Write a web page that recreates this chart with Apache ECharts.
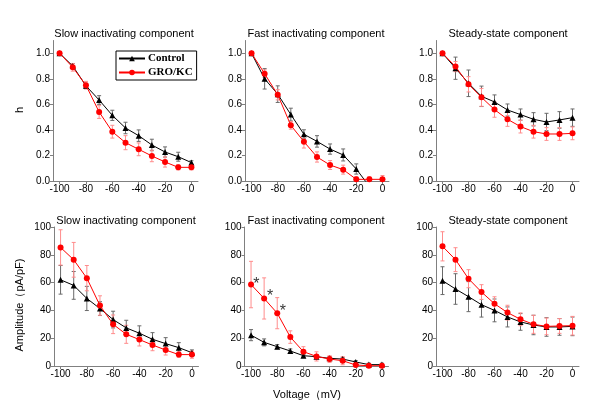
<!DOCTYPE html>
<html>
<head>
<meta charset="utf-8">
<script src="https://cdn.jsdelivr.net/npm/echarts@6/dist/echarts.min.js"></script>
<style>html,body{margin:0;padding:0;background:#fff;}#c{width:600px;height:417px;}</style>
</head>
<body>
<div id="c"></div>
<script>
// ---------- data ----------
const voltage = [-100, -90, -80, -70, -60, -50, -40, -30, -20, -10, 0];
const xTicks = [-100, -80, -60, -40, -20, 0];
const hTicks = [0, 0.2, 0.4, 0.6, 0.8, 1.0];
const ampTicks = [0, 20, 40, 60, 80, 100];

const panelTitles = ['Slow inactivating component', 'Fast inactivating component', 'Steady-state component',
                     'Slow inactivating component', 'Fast inactivating component', 'Steady-state component'];

// h (top row)
const slowH_ctrl     = [1.0, 0.90, 0.745, 0.634, 0.514, 0.415, 0.355, 0.282, 0.227, 0.19, 0.144];
const slowH_ctrlErr  = [0, 0.02, 0.02, 0.034, 0.04, 0.045, 0.045, 0.045, 0.04, 0.035, 0.015];
const slowH_gro      = [1.0, 0.89, 0.75, 0.54, 0.386, 0.30, 0.248, 0.196, 0.149, 0.107, 0.107];
const slowH_groErr   = [0, 0.03, 0.03, 0.05, 0.05, 0.055, 0.05, 0.045, 0.04, 0.02, 0.02];

const fastH_ctrl     = [1.0, 0.80, 0.68, 0.52, 0.366, 0.31, 0.25, 0.204, 0.094, -0.042, -0.05];
const fastH_ctrlErr  = [0, 0.08, 0.065, 0.05, 0.035, 0.045, 0.04, 0.047, 0.04, 0, 0];
const fastH_gro      = [1.0, 0.84, 0.675, 0.436, 0.308, 0.188, 0.125, 0.089, 0.013, 0.013, 0.013];
const fastH_groErr   = [0, 0.03, 0.04, 0.03, 0.05, 0.04, 0.035, 0.035, 0.02, 0.02, 0.03];

const steadyH_ctrl    = [1.0, 0.883, 0.765, 0.663, 0.619, 0.556, 0.52, 0.483, 0.462, 0.478, 0.496];
const steadyH_ctrlErr = [0, 0.087, 0.104, 0.08, 0.055, 0.047, 0.044, 0.052, 0.068, 0.065, 0.068];
const steadyH_gro     = [1.0, 0.896, 0.757, 0.655, 0.559, 0.483, 0.426, 0.386, 0.368, 0.368, 0.373];
const steadyH_groErr  = [0, 0.04, 0.06, 0.07, 0.06, 0.055, 0.05, 0.05, 0.05, 0.05, 0.05];

// Amplitude (bottom row)
const slowA_ctrl     = [62, 58, 48.6, 41.3, 33.4, 27.4, 23.6, 19.2, 16.1, 13.2, 9.6];
const slowA_ctrlErr  = [10.3, 10, 8.7, 5, 6, 5.5, 5.3, 4.8, 4.3, 3.6, 2];
const slowA_gro      = [85.3, 76.4, 63.2, 43.5, 30, 22.8, 19, 15.1, 11.5, 8.2, 8.2];
const slowA_groErr   = [12.7, 12.5, 9.1, 7, 6.7, 6.5, 4.6, 4.1, 3.6, 2, 2.6];

const fastA_ctrl     = [22.2, 17, 13.9, 10.8, 7.4, 6.7, 5.5, 5, 2.9, 1, 1];
const fastA_ctrlErr  = [4, 2.5, 1.5, 1.5, 1, 1, 1, 1, 1, 1, 1];
const fastA_gro      = [58.6, 48.6, 38, 20.8, 10.3, 6.9, 5, 3.8, 0.7, 0.2, 0.2];
const fastA_groErr   = [16.7, 14.8, 11.2, 4.5, 3.6, 3.3, 2.4, 2.9, 1, 0.5, 0.5];
const starX = [-96, -85.5, -75.6];
const starY = [61.7, 52.6, 41.9];

const steadyA_ctrl    = [61.4, 55.4, 49.9, 44.1, 40, 35.3, 31.7, 29.5, 28.1, 28.1, 28.5];
const steadyA_ctrlErr = [10, 11, 10.8, 8.9, 8.2, 7.2, 6, 7, 6.7, 6, 6.7];
const steadyA_gro     = [86.1, 76.5, 62.8, 53.2, 44.8, 38.4, 33.6, 30, 28.5, 28.8, 29];
const steadyA_groErr  = [10.5, 8.6, 6.5, 5.3, 5, 5.3, 4.6, 6.5, 6, 5.3, 6.7];

const panels = [
  [slowH_ctrl, slowH_ctrlErr, slowH_gro, slowH_groErr],
  [fastH_ctrl, fastH_ctrlErr, fastH_gro, fastH_groErr],
  [steadyH_ctrl, steadyH_ctrlErr, steadyH_gro, steadyH_groErr],
  [slowA_ctrl, slowA_ctrlErr, slowA_gro, slowA_groErr],
  [fastA_ctrl, fastA_ctrlErr, fastA_gro, fastA_groErr],
  [steadyA_ctrl, steadyA_ctrlErr, steadyA_gro, steadyA_groErr]
];

// ---------- layout ----------
const FONT = 'Liberation Sans, Arial, sans-serif';
const gridBoxes = [
  {left: 53,  top: 40.5, width: 145, height: 140.5},
  {left: 245, top: 40.5, width: 144, height: 140.5},
  {left: 436, top: 40.5, width: 143, height: 140.5},
  {left: 54,  top: 227,  width: 144.5, height: 139},
  {left: 244.5, top: 227, width: 144, height: 139},
  {left: 436, top: 227,  width: 143, height: 139}
];
const titleCenters = [124, 316, 508, 126, 316, 508];
const titleTops = [28, 28, 28, 215, 215, 215];

const axisGrey = '#808080';

const grids = gridBoxes.map(b => Object.assign({containLabel: false}, b));
const xAxes = gridBoxes.map((b, i) => ({
  type: 'value', gridIndex: i, min: -105, max: 5,
  axisLine: {show: true, onZero: false, lineStyle: {color: axisGrey, width: 1}},
  axisTick: {show: true, length: 3, customValues: xTicks, lineStyle: {color: axisGrey}},
  axisLabel: {customValues: xTicks, color: '#000', fontSize: 10, fontFamily: FONT, margin: 3},
  splitLine: {show: false}
}));
const yAxes = gridBoxes.map((b, i) => {
  const top = i < 3;
  return {
    type: 'value', gridIndex: i, min: 0, max: top ? 1.1 : 100,
    axisLine: {show: true, onZero: false, lineStyle: {color: axisGrey, width: 1}},
    axisTick: {show: true, length: 3, customValues: top ? hTicks : ampTicks, lineStyle: {color: axisGrey}},
    axisLabel: {customValues: top ? hTicks : ampTicks, color: '#000', fontSize: 10, fontFamily: FONT, margin: 3,
      formatter: v => top ? v.toFixed(1) : String(v)},
    splitLine: {show: false}
  };
});

function errSeries(i, vals, errs, color) {
  return {
    type: 'custom', xAxisIndex: i, yAxisIndex: i, clip: true, z: 1, silent: true,
    data: voltage.map((v, k) => [v, vals[k], errs[k]]),
    renderItem: function (params, api) {
      const x = api.value(0), y = api.value(1), e = api.value(2);
      if (!e) return null;
      const p1 = api.coord([x, y + e]);
      const p2 = api.coord([x, y - e]);
      const w = 2;
      const st = {stroke: color, lineWidth: 1};
      return {type: 'group', children: [
        {type: 'line', shape: {x1: p1[0], y1: p1[1], x2: p2[0], y2: p2[1]}, style: st},
        {type: 'line', shape: {x1: p1[0] - w, y1: p1[1], x2: p1[0] + w, y2: p1[1]}, style: st},
        {type: 'line', shape: {x1: p2[0] - w, y1: p2[1], x2: p2[0] + w, y2: p2[1]}, style: st}
      ]};
    }
  };
}

const series = [];
panels.forEach((p, i) => {
  const [c, ce, g, ge] = p;
  series.push(errSeries(i, c, ce, '#6a6a6a'));
  series.push(errSeries(i, g, ge, '#ff8c8c'));
  series.push({
    name: 'Control', type: 'line', xAxisIndex: i, yAxisIndex: i, clip: true, z: 3,
    data: voltage.map((v, k) => [v, c[k]]),
    symbol: 'triangle', symbolSize: 6, showAllSymbol: true,
    lineStyle: {color: '#000', width: 1}, itemStyle: {color: '#000'}, animation: false
  });
  series.push({
    name: 'GRO/KC', type: 'line', xAxisIndex: i, yAxisIndex: i, clip: true, z: 4,
    data: voltage.map((v, k) => [v, g[k]]),
    symbol: 'circle', symbolSize: 6, showAllSymbol: true,
    lineStyle: {color: '#ff0000', width: 1}, itemStyle: {color: '#ff0000'}, animation: false
  });
});
series.push({
  type: 'scatter', xAxisIndex: 4, yAxisIndex: 4, z: 5, silent: true,
  data: starX.map((x, k) => [x, starY[k]]),
  symbol: 'circle', symbolSize: 2, itemStyle: {color: 'rgba(0,0,0,0)'},
  label: {show: true, position: 'inside', formatter: '*', color: '#000', fontSize: 16, fontFamily: FONT, offset: [0, 4]}
});

const titles = panelTitles.map((t, i) => ({
  text: t, left: titleCenters[i], top: titleTops[i], textAlign: 'center', padding: 0,
  textStyle: {fontSize: 11, fontWeight: 'normal', color: '#000', fontFamily: FONT}
}));

const option = {
  animation: false,
  backgroundColor: '#fff',
  title: titles,
  grid: grids,
  xAxis: xAxes,
  yAxis: yAxes,
  legend: {
    data: ['Control', 'GRO/KC'], orient: 'vertical', left: 116, top: 51,
    itemWidth: 26, itemHeight: 7, itemGap: 3, padding: [2, 4, 2, 2],
    borderColor: '#000', borderWidth: 1, borderRadius: 0, backgroundColor: '#fff',
    textStyle: {fontFamily: 'Liberation Serif, Times New Roman, serif', fontWeight: 'bold', fontSize: 11, color: '#000', padding: [0, 0, 0, -2]}
  },
  graphic: [
    {type: 'text', x: 20, y: 110, rotation: Math.PI / 2, style: {text: 'h', fill: '#000', font: '11px ' + FONT, align: 'center', verticalAlign: 'middle'}},
    {type: 'text', x: 20, y: 305, rotation: Math.PI / 2, style: {text: 'Amplitude（pA/pF)', fill: '#000', font: '11px ' + FONT, align: 'center', verticalAlign: 'middle'}},
    {type: 'text', x: 307, y: 395, style: {text: 'Voltage（mV)', fill: '#000', font: '11px ' + FONT, align: 'center', verticalAlign: 'middle'}}
  ],
  series: series
};

const chart = echarts.init(document.getElementById('c'), null, {renderer: 'canvas'});
chart.setOption(option);
</script>
</body>
</html>
